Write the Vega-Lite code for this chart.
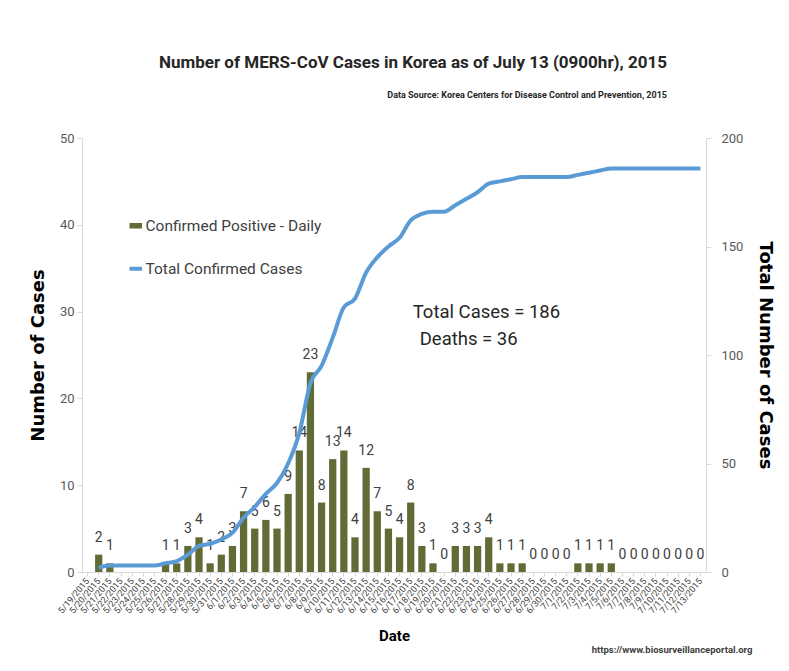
{
  "$schema": "https://vega.github.io/schema/vega-lite/v6.json",
  "width": 624,
  "height": 434,
  "autosize": "none",
  "padding": {"left": 82, "top": 138, "right": 83, "bottom": 99},
  "background": "white",
  "config": {
    "font": "Roboto",
    "view": {"stroke": null},
    "axis": {"grid": false}
  },
  "title": {
    "text": "Number of MERS-CoV Cases in Korea as of July 13 (0900hr), 2015",
    "subtitle": "Data Source: Korea Centers for Disease Control and Prevention, 2015",
    "anchor": "end",
    "frame": "group",
    "dx": -39,
    "offset": 31,
    "font": "Roboto",
    "fontSize": 17,
    "fontWeight": "bold",
    "color": "#262626",
    "subtitleFont": "Roboto",
    "subtitleFontSize": 9,
    "subtitleFontWeight": "bold",
    "subtitleColor": "#262626",
    "subtitlePadding": 19
  },
  "data": {
    "values": [
      {"date": "5/19/2015", "daily": null, "total": null},
      {"date": "5/20/2015", "daily": 2, "total": 2},
      {"date": "5/21/2015", "daily": 1, "total": 3},
      {"date": "5/22/2015", "daily": null, "total": 3},
      {"date": "5/23/2015", "daily": null, "total": 3},
      {"date": "5/24/2015", "daily": null, "total": 3},
      {"date": "5/25/2015", "daily": null, "total": 3},
      {"date": "5/26/2015", "daily": 1, "total": 4},
      {"date": "5/27/2015", "daily": 1, "total": 5},
      {"date": "5/28/2015", "daily": 3, "total": 8},
      {"date": "5/29/2015", "daily": 4, "total": 12},
      {"date": "5/30/2015", "daily": 1, "total": 13},
      {"date": "5/31/2015", "daily": 2, "total": 15},
      {"date": "6/1/2015", "daily": 3, "total": 18},
      {"date": "6/2/2015", "daily": 7, "total": 25},
      {"date": "6/3/2015", "daily": 5, "total": 30},
      {"date": "6/4/2015", "daily": 6, "total": 36},
      {"date": "6/5/2015", "daily": 5, "total": 41},
      {"date": "6/6/2015", "daily": 9, "total": 50},
      {"date": "6/7/2015", "daily": 14, "total": 64},
      {"date": "6/8/2015", "daily": 23, "total": 87},
      {"date": "6/9/2015", "daily": 8, "total": 95},
      {"date": "6/10/2015", "daily": 13, "total": 108},
      {"date": "6/11/2015", "daily": 14, "total": 122},
      {"date": "6/12/2015", "daily": 4, "total": 126},
      {"date": "6/13/2015", "daily": 12, "total": 138},
      {"date": "6/14/2015", "daily": 7, "total": 145},
      {"date": "6/15/2015", "daily": 5, "total": 150},
      {"date": "6/16/2015", "daily": 4, "total": 154},
      {"date": "6/17/2015", "daily": 8, "total": 162},
      {"date": "6/18/2015", "daily": 3, "total": 165},
      {"date": "6/19/2015", "daily": 1, "total": 166},
      {"date": "6/20/2015", "daily": 0, "total": 166},
      {"date": "6/21/2015", "daily": 3, "total": 169},
      {"date": "6/22/2015", "daily": 3, "total": 172},
      {"date": "6/23/2015", "daily": 3, "total": 175},
      {"date": "6/24/2015", "daily": 4, "total": 179},
      {"date": "6/25/2015", "daily": 1, "total": 180},
      {"date": "6/26/2015", "daily": 1, "total": 181},
      {"date": "6/27/2015", "daily": 1, "total": 182},
      {"date": "6/28/2015", "daily": 0, "total": 182},
      {"date": "6/29/2015", "daily": 0, "total": 182},
      {"date": "6/30/2015", "daily": 0, "total": 182},
      {"date": "7/1/2015", "daily": 0, "total": 182},
      {"date": "7/2/2015", "daily": 1, "total": 183},
      {"date": "7/3/2015", "daily": 1, "total": 184},
      {"date": "7/4/2015", "daily": 1, "total": 185},
      {"date": "7/5/2015", "daily": 1, "total": 186},
      {"date": "7/6/2015", "daily": 0, "total": 186},
      {"date": "7/7/2015", "daily": 0, "total": 186},
      {"date": "7/8/2015", "daily": 0, "total": 186},
      {"date": "7/9/2015", "daily": 0, "total": 186},
      {"date": "7/10/2015", "daily": 0, "total": 186},
      {"date": "7/11/2015", "daily": 0, "total": 186},
      {"date": "7/12/2015", "daily": 0, "total": 186},
      {"date": "7/13/2015", "daily": 0, "total": 186}
    ]
  },
  "encoding": {
    "x": {
      "field": "date",
      "type": "ordinal",
      "sort": null,
      "scale": {
        "domain": ["5/19/2015", "5/20/2015", "5/21/2015", "5/22/2015", "5/23/2015", "5/24/2015", "5/25/2015", "5/26/2015", "5/27/2015", "5/28/2015", "5/29/2015", "5/30/2015", "5/31/2015", "6/1/2015", "6/2/2015", "6/3/2015", "6/4/2015", "6/5/2015", "6/6/2015", "6/7/2015", "6/8/2015", "6/9/2015", "6/10/2015", "6/11/2015", "6/12/2015", "6/13/2015", "6/14/2015", "6/15/2015", "6/16/2015", "6/17/2015", "6/18/2015", "6/19/2015", "6/20/2015", "6/21/2015", "6/22/2015", "6/23/2015", "6/24/2015", "6/25/2015", "6/26/2015", "6/27/2015", "6/28/2015", "6/29/2015", "6/30/2015", "7/1/2015", "7/2/2015", "7/3/2015", "7/4/2015", "7/5/2015", "7/6/2015", "7/7/2015", "7/8/2015", "7/9/2015", "7/10/2015", "7/11/2015", "7/12/2015", "7/13/2015"],
        "paddingInner": 0.35,
        "paddingOuter": 0.175
      },
      "axis": {
        "title": "Date",
        "labelAngle": -50,
        "labelFontSize": 9,
        "labelColor": "#404040",
        "labelPadding": 3,
        "domainColor": "#d9d9d9",
        "tickColor": "#d9d9d9",
        "tickSize": 4,
        "titleFont": "Roboto",
        "titleFontSize": 15,
        "titleFontWeight": "bold",
        "titleColor": "#000000",
        "titlePadding": 13
      }
    }
  },
  "layer": [
    {
      "layer": [
        {
          "mark": {"type": "bar"},
          "encoding": {
            "y": {
              "field": "daily",
              "type": "quantitative",
              "scale": {"domain": [0, 50]},
              "axis": {
                "title": "Number of Cases",
                "values": [0, 10, 20, 30, 40, 50],
                "labelFontSize": 13,
                "labelColor": "#595959",
                "labelPadding": 3,
                "tickSize": 5,
                "tickColor": "#d9d9d9",
                "domainColor": "#d9d9d9",
                "titleFont": "DejaVu Sans",
                "titleFontSize": 18,
                "titleFontWeight": "bold",
                "titleColor": "#000000",
                "titlePadding": 12
              }
            },
            "color": {
              "datum": "Confirmed Positive - Daily",
              "type": "nominal",
              "scale": {
                "domain": ["Confirmed Positive - Daily", "Total Confirmed Cases"],
                "range": ["#606b35", "#5b9bd5"]
              },
              "legend": {
                "title": null,
                "orient": "none",
                "legendX": 46,
                "legendY": 80,
                "padding": 0,
                "labelFont": "Roboto",
                "labelFontSize": 15.5,
                "labelColor": "#404040",
                "labelOffset": 2,
                "labelLimit": 400,
                "rowPadding": 25,
                "symbolSize": 625,
                "encode": {
                  "symbols": {
                    "update": {
                      "shape": {"signal": "datum.value === 'Total Confirmed Cases' ? 'M-0.5,0H0.5' : 'M-0.5,-0.22H0.5V0.22H-0.5Z'"},
                      "fill": {"signal": "datum.value === 'Total Confirmed Cases' ? 'transparent' : '#606b35'"},
                      "stroke": {"signal": "datum.value === 'Total Confirmed Cases' ? '#5b9bd5' : 'transparent'"},
                      "strokeWidth": {"signal": "datum.value === 'Total Confirmed Cases' ? 4 : 0"},
                      "opacity": {"value": 1}
                    }
                  }
                }
              }
            }
          }
        },
        {
          "transform": [{"filter": "datum.daily != null"}],
          "mark": {"type": "text", "baseline": "alphabetic", "dy": -13, "fontSize": 14, "color": "#404040"},
          "encoding": {
            "y": {"field": "daily", "type": "quantitative", "scale": {"domain": [0, 50]}},
            "text": {"field": "daily", "type": "quantitative"}
          }
        },
        {
          "data": {"values": [{"label": "Total Cases = 186"}]},
          "mark": {"type": "text", "align": "left", "baseline": "middle", "dx": 2, "fontSize": 18.5, "color": "#262626"},
          "encoding": {
            "x": {"datum": "6/17/2015"},
            "y": {"datum": 30, "type": "quantitative", "scale": {"domain": [0, 50]}},
            "text": {"field": "label"}
          }
        },
        {
          "data": {"values": [{"label": "Deaths = 36"}]},
          "mark": {"type": "text", "align": "left", "baseline": "middle", "dx": 9, "fontSize": 18.5, "color": "#262626"},
          "encoding": {
            "x": {"datum": "6/17/2015"},
            "y": {"datum": 26.8, "type": "quantitative", "scale": {"domain": [0, 50]}},
            "text": {"field": "label"}
          }
        },
        {
          "data": {"values": [{"label": "https://www.biosurveillanceportal.org"}]},
          "mark": {"type": "text", "align": "right", "baseline": "middle", "dx": 52, "fontSize": 9.5, "fontWeight": "bold", "color": "#404040"},
          "encoding": {
            "x": {"datum": "7/13/2015"},
            "y": {"datum": -9, "type": "quantitative", "scale": {"domain": [0, 50]}},
            "text": {"field": "label"}
          }
        }
      ]
    },
    {
      "transform": [{"filter": "datum.total != null"}],
      "mark": {"type": "line", "interpolate": "monotone", "strokeWidth": 4},
      "encoding": {
        "y": {
          "field": "total",
          "type": "quantitative",
          "scale": {"domain": [0, 200]},
          "axis": {
            "orient": "right",
            "title": "Total Number of Cases",
            "values": [0, 50, 100, 150, 200],
            "labelFontSize": 13,
            "labelColor": "#595959",
            "labelPadding": 10,
            "tickSize": 5,
            "tickColor": "#d9d9d9",
            "domainColor": "#d9d9d9",
            "titleFont": "DejaVu Sans",
            "titleFontSize": 18,
            "titleFontWeight": "bold",
            "titleColor": "#000000",
            "titlePadding": 13
          }
        },
        "color": {"datum": "Total Confirmed Cases", "type": "nominal"}
      }
    }
  ],
  "resolve": {"scale": {"y": "independent"}}
}
